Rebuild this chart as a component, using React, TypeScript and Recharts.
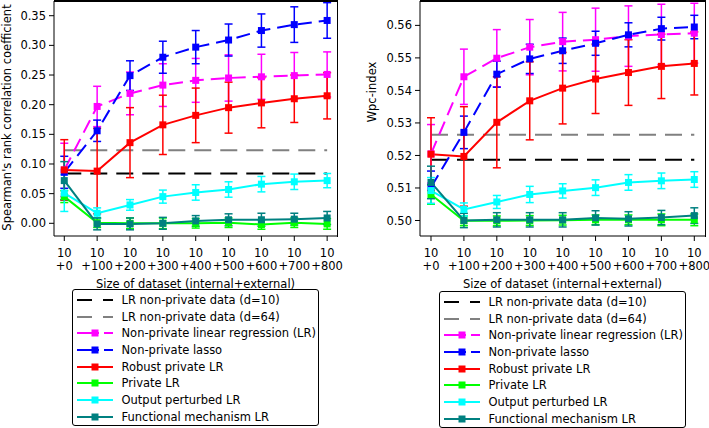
import React from "react";
import { LineChart, Line, XAxis, YAxis, ErrorBar } from "recharts";

const FONT = "'DejaVu Sans', Verdana, sans-serif";
const FS = 11.5;

// x categories: internal size + external size
const baseSize = "10";
const extraSizes = ["+0", "+100", "+200", "+300", "+400", "+500", "+600", "+700", "+800"];

const seriesNames = [
  "LR non-private data (d=10)",
  "LR non-private data (d=64)",
  "Non-private linear regression (LR)",
  "Non-private lasso",
  "Robust private LR",
  "Private LR",
  "Output perturbed LR",
  "Functional mechanism LR",
];
const seriesColors = ["#000000", "#808080", "#ff00ff", "#0000ff", "#ff0000", "#00ff00", "#00ffff", "#008080"];

// left panel: Spearman's rank correlation
const spRef10 = 0.084;
const spRef64 = 0.123;
const spNonPrivLR = [0.09, 0.197, 0.219, 0.233, 0.241, 0.245, 0.247, 0.249, 0.251];
const spNonPrivLRErr = [0.045, 0.034, 0.036, 0.036, 0.037, 0.039, 0.038, 0.039, 0.038];
const spLasso = [0.086, 0.156, 0.249, 0.28, 0.297, 0.309, 0.325, 0.335, 0.342];
const spLassoErr = [0.027, 0.018, 0.025, 0.027, 0.028, 0.027, 0.028, 0.03, 0.03];
const spRobust = [0.09, 0.088, 0.136, 0.166, 0.182, 0.195, 0.203, 0.21, 0.215];
const spRobustErr = [0.051, 0.072, 0.059, 0.05, 0.046, 0.043, 0.042, 0.04, 0.039];
const spPrivate = [0.045, 0.001, 0.0, 0.0, 0.0, 0.001, -0.002, 0.001, -0.001];
const spPrivateErr = [0.01, 0.008, 0.009, 0.009, 0.008, 0.008, 0.008, 0.008, 0.009];
const spOutput = [0.051, 0.017, 0.031, 0.045, 0.052, 0.057, 0.066, 0.07, 0.072];
const spOutputErr = [0.031, 0.009, 0.009, 0.011, 0.013, 0.013, 0.013, 0.013, 0.012];
const spFunctional = [0.072, -0.001, -0.001, 0.0, 0.004, 0.006, 0.006, 0.007, 0.009];
const spFunctionalErr = [0.032, 0.01, 0.01, 0.01, 0.009, 0.01, 0.011, 0.01, 0.011];
const spTicks = [0, 0.05, 0.1, 0.15, 0.2, 0.25, 0.3, 0.35];

// right panel: Wpc-index
const wpcRef10 = 0.5187;
const wpcRef64 = 0.5264;
const wpcNonPrivLR = [0.5205, 0.5442, 0.5499, 0.5533, 0.555, 0.5556, 0.5567, 0.5572, 0.5576];
const wpcNonPrivLRErr = [0.009, 0.0085, 0.0088, 0.0085, 0.009, 0.0097, 0.0093, 0.0093, 0.0092];
const wpcLasso = [0.5102, 0.5271, 0.545, 0.5497, 0.5522, 0.5545, 0.5571, 0.559, 0.5595];
const wpcLassoErr = [0.005, 0.005, 0.004, 0.0045, 0.0039, 0.0037, 0.0037, 0.0035, 0.0036];
const wpcRobust = [0.5204, 0.5197, 0.5302, 0.5368, 0.5407, 0.5435, 0.5455, 0.5474, 0.5483];
const wpcRobustErr = [0.0112, 0.0153, 0.014, 0.012, 0.011, 0.0106, 0.0101, 0.0099, 0.0097];
const wpcPrivate = [0.508, 0.4999, 0.4999, 0.5, 0.5001, 0.5002, 0.5002, 0.5002, 0.5002];
const wpcPrivateErr = [0.003, 0.0015, 0.0015, 0.0015, 0.0015, 0.0015, 0.0015, 0.0018, 0.0018];
const wpcOutput = [0.5092, 0.5034, 0.5057, 0.508, 0.5091, 0.5101, 0.5117, 0.5122, 0.5126];
const wpcOutputErr = [0.004, 0.002, 0.002, 0.0025, 0.0022, 0.0024, 0.0024, 0.0024, 0.0024];
const wpcFunctional = [0.5117, 0.5, 0.5002, 0.5002, 0.5002, 0.5008, 0.5005, 0.5009, 0.5015];
const wpcFunctionalErr = [0.005, 0.0022, 0.0022, 0.0022, 0.0022, 0.0022, 0.0022, 0.0022, 0.0024];
const wpcTicks = [0.5, 0.51, 0.52, 0.53, 0.54, 0.55, 0.56];

const REF_DASH = "17 9";
const SERIES_DASH = "14 7";
const CHART_H = 300;
const MARGIN_TOP = 1;
const PLOT_BOTTOM = 236;

function buildRows(ref10: number, ref64: number, vals: number[][], errs: number[][]) {
  return extraSizes.map((_, i) => {
    const row: Record<string, number> = { idx: i, ref10, ref64 };
    vals.forEach((v, k) => {
      row[`s${k}`] = v[i];
      row[`e${k}`] = errs[k][i];
    });
    return row;
  });
}

const spRows = buildRows(
  spRef10,
  spRef64,
  [spNonPrivLR, spLasso, spRobust, spPrivate, spOutput, spFunctional],
  [spNonPrivLRErr, spLassoErr, spRobustErr, spPrivateErr, spOutputErr, spFunctionalErr]
);
const wpcRows = buildRows(
  wpcRef10,
  wpcRef64,
  [wpcNonPrivLR, wpcLasso, wpcRobust, wpcPrivate, wpcOutput, wpcFunctional],
  [wpcNonPrivLRErr, wpcLassoErr, wpcRobustErr, wpcPrivateErr, wpcOutputErr, wpcFunctionalErr]
);

const squareDot = (color: string) => (p: any) => {
  if (p.cx == null || p.cy == null) return <g key={`d-${p.index}`} />;
  return <rect key={`d-${p.index}`} x={p.cx - 3.5} y={p.cy - 3.5} width={7} height={7} fill={color} />;
};

const XTick = (p: any) => {
  const label = extraSizes[p.payload.value] ?? "";
  return (
    <text x={p.x} y={p.y} textAnchor="middle" fontFamily={FONT} fontSize={FS} fill="#000">
      <tspan x={p.x} dy={12.7}>{baseSize}</tspan>
      <tspan x={p.x} dy={13.3}>{label}</tspan>
    </text>
  );
};

type PanelProps = {
  rows: Record<string, number>[];
  left: number;
  width: number;
  yWidth: number;
  marginRight: number;
  xDomain: [number, number];
  yDomain: [number, number];
  yTicks: number[];
  yLabel: string;
  yLabelX: number;
  yLabelY: number;
};

function Panel(props: PanelProps) {
  const { rows, left, width, yWidth, marginRight, xDomain, yDomain, yTicks, yLabel, yLabelX, yLabelY } = props;
  const idxTicks = extraSizes.map((_, i) => i);
  const plotW = width - yWidth - marginRight;
  return (
    <div style={{ position: "absolute", left, top: 0, width, height: CHART_H }}>
      <LineChart width={width} height={CHART_H} data={rows} margin={{ top: MARGIN_TOP, right: marginRight, left: 0, bottom: 14 }}>
        <XAxis
          dataKey="idx"
          type="number"
          domain={xDomain}
          ticks={idxTicks}
          allowDataOverflow
          height={50}
          tickSize={5}
          tickMargin={3}
          stroke="#000"
          tick={<XTick />}
          label={{
            content: (lp: any) => (
              <text
                x={lp.viewBox.x + lp.viewBox.width / 2}
                y={287.5}
                textAnchor="middle"
                fontFamily={FONT}
                fontSize={FS}
                fill="#000"
              >
                Size of dataset (internal+external)
              </text>
            ),
          }}
        />
        <YAxis
          type="number"
          domain={yDomain}
          ticks={yTicks}
          allowDataOverflow
          width={yWidth}
          tickSize={5}
          tickMargin={3}
          stroke="#000"
          tickFormatter={(v: number) => v.toFixed(2)}
          tick={{ fill: "#000", fontSize: FS, fontFamily: FONT }}
          label={{
            content: () => (
              <text
                x={yLabelX}
                y={yLabelY}
                transform={`rotate(-90 ${yLabelX} ${yLabelY})`}
                textAnchor="middle"
                fontFamily={FONT}
                fontSize={FS}
                fill="#000"
              >
                {yLabel}
              </text>
            ),
          }}
        />
        <Line dataKey="ref10" stroke={seriesColors[0]} strokeWidth={2} strokeDasharray={REF_DASH} dot={false} activeDot={false} isAnimationActive={false} />
        <Line dataKey="ref64" stroke={seriesColors[1]} strokeWidth={2} strokeDasharray={REF_DASH} dot={false} activeDot={false} isAnimationActive={false} />
        {[0, 1, 2, 3, 4, 5].map((k) => {
          const color = seriesColors[k + 2];
          return (
            <Line
              key={k}
              dataKey={`s${k}`}
              stroke={color}
              strokeWidth={2}
              strokeDasharray={k < 2 ? SERIES_DASH : undefined}
              dot={squareDot(color)}
              activeDot={false}
              isAnimationActive={false}
            >
              <ErrorBar dataKey={`e${k}`} direction="y" width={4} strokeWidth={1.5} stroke={color} isAnimationActive={false} />
            </Line>
          );
        })}
      </LineChart>
      {/* axes frame: top and right spines */}
      <div style={{ position: "absolute", left: yWidth, top: 0, width: plotW, height: 1.5, background: "#000", zIndex: 20 }} />
      <div style={{ position: "absolute", left: yWidth + plotW - 0.5, top: 0, width: 1.5, height: PLOT_BOTTOM + 1, background: "#000", zIndex: 20 }} />
    </div>
  );
}

function LegendBox({ left, top }: { left: number; top: number }) {
  return (
    <div
      style={{
        position: "absolute",
        left,
        top,
        width: 247,
        height: 137,
        border: "1px solid #000",
        borderRadius: 3,
        background: "#fff",
        fontFamily: FONT,
        fontSize: FS,
        color: "#000",
        boxSizing: "border-box",
        paddingTop: 1.5,
        zIndex: 5,
      }}
    >
      {seriesNames.map((name, i) => {
        const color = seriesColors[i];
        const dash = i < 2 ? "15 11" : i < 4 ? "22 5" : undefined;
        return (
          <div key={name} style={{ display: "flex", alignItems: "center", height: 16.7, whiteSpace: "nowrap" }}>
            <svg width={36} height={16} style={{ marginLeft: 3.5, marginRight: 9, flex: "none" }}>
              <line x1={0} y1={8} x2={36} y2={8} stroke={color} strokeWidth={2} strokeDasharray={dash} />
              {i >= 2 && <rect x={14.5} y={4.5} width={7} height={7} fill={color} />}
            </svg>
            <span>{name}</span>
          </div>
        );
      })}
    </div>
  );
}

export default function App() {
  return (
    <div style={{ position: "absolute", left: 0, top: 0, width: 709, height: 428, background: "#fff", overflow: "hidden" }}>
      <Panel
        rows={spRows}
        left={0}
        width={360}
        yWidth={54}
        marginRight={23}
        xDomain={[-0.313, 8.3]}
        yDomain={[-0.0214, 0.3748]}
        yTicks={spTicks}
        yLabel="Spearman's rank correlation coefficient"
        yLabelX={11}
        yLabelY={117.5}
      />
      <Panel
        rows={wpcRows}
        left={360}
        width={349}
        yWidth={60}
        marginRight={4}
        xDomain={[-0.334, 8.325]}
        yDomain={[0.49523, 0.5675]}
        yTicks={wpcTicks}
        yLabel="Wpc-index"
        yLabelX={16}
        yLabelY={92}
      />
      <LegendBox left={72} top={289} />
      <LegendBox left={439} top={291} />
    </div>
  );
}
